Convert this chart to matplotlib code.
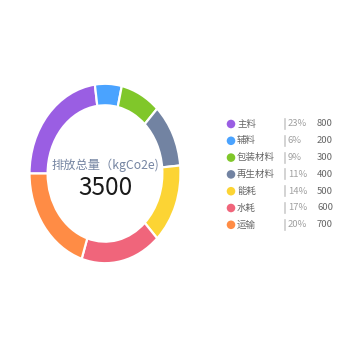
import matplotlib
matplotlib.use("Agg")
import matplotlib.pyplot as plt

plt.rcParams['font.family'] = ['Noto Sans CJK SC', 'DejaVu Sans']

categories = ["主料", "辅料", "包装材料", "再生材料", "能耗", "水耗", "运输"]
values = [800, 200, 300, 400, 500, 600, 700]
percents = ["23%", "6%", "9%", "11%", "14%", "17%", "20%"]
colors = ["#9A5EE3", "#4AA3FF", "#80C72A", "#7283A2", "#FCD434", "#F0657B", "#FF8C45"]
total_label = "排放总量（kgCo2e)"
total = sum(values)

W, H = 350, 350
fig = plt.figure(figsize=(3.5, 3.5), dpi=100)
fig.patch.set_facecolor("white")

# donut ring (slightly taller than wide)
cx, cy, rx, ry = 105, 173.5, 77, 91.5
ax = fig.add_axes([(cx - rx) / W, (H - cy - ry) / H, 2 * rx / W, 2 * ry / H])
ax.pie(values, colors=colors, startangle=180, counterclock=False, radius=1.0,
       wedgeprops=dict(width=0.24, edgecolor="white", linewidth=1.6))
ax.set_aspect("auto")
ax.set_xlim(-1.02, 1.02)
ax.set_ylim(-1.02, 1.02)
ax.axis("off")

ax.text(0, 0.09, total_label, ha="center", va="center", fontsize=8.8, color="#7585A2")
ax.text(0, -0.165, str(total), ha="center", va="center", fontsize=17.5, color="#1a1a1a")

# legend rows
lg = fig.add_axes([0, 0, 1, 1])
lg.set_xlim(0, W)
lg.set_ylim(H, 0)
lg.axis("off")
y0, dy = 124, 16.8
for i, (name, pct, v, c) in enumerate(zip(categories, percents, values, colors)):
    y = y0 + i * dy
    lg.scatter([231], [y], s=38, color=c, edgecolors="none")
    lg.text(237, y, name, ha="left", va="center", fontsize=6.8, color="#666666")
    lg.plot([285, 285], [y - 5, y + 5], color="#cccccc", lw=1.2)
    lg.text(288, y, pct, ha="left", va="center", fontsize=6.8, color="#a0a0a0")
    lg.text(317, y, str(v), ha="left", va="center", fontsize=6.8, color="#666666")

fig.savefig("out.png", dpi=100, facecolor="white")
